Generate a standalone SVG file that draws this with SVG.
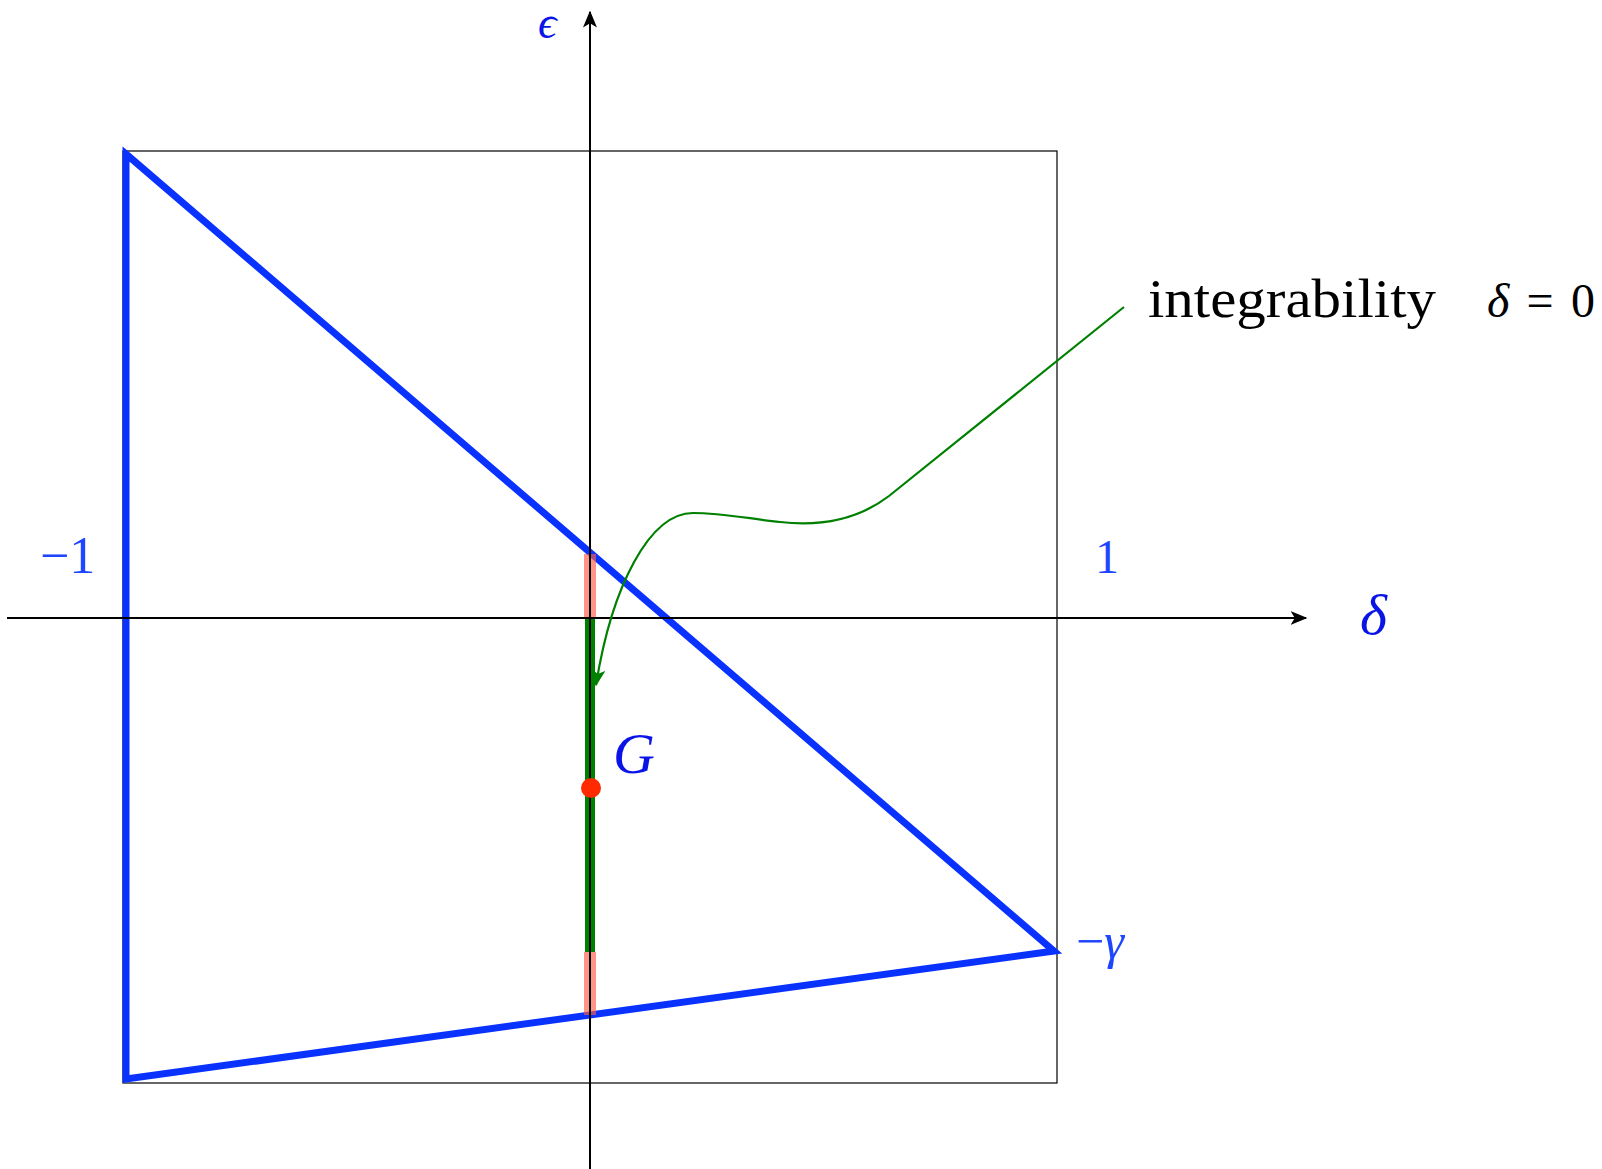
<svg xmlns="http://www.w3.org/2000/svg" width="1602" height="1169" viewBox="0 0 1602 1169">
<style>
.ax{stroke:#000;stroke-width:2;fill:none}
.box{stroke:#000;stroke-width:1.2;fill:none}
.tri{stroke:#0a32ff;stroke-width:7;fill:none;stroke-linejoin:miter}
.lbl{font-family:"Liberation Serif","DejaVu Serif",serif;fill:#1f46ff}
.math{font-family:"Liberation Serif","DejaVu Serif",serif;font-style:italic;fill:#0a14e6}
.txt{font-family:"Liberation Serif","DejaVu Serif",serif;fill:#000}
</style>
<defs>
<marker id="ah" viewBox="0 0 12 10" refX="11" refY="5" markerWidth="17" markerHeight="14" markerUnits="userSpaceOnUse" orient="auto">
<path d="M0,0 L12,5 L0,10 L3,5 Z" fill="#000"/>
</marker>
<marker id="gh" viewBox="0 0 12 10" refX="11" refY="5" markerWidth="17" markerHeight="14" markerUnits="userSpaceOnUse" orient="auto">
<path d="M0,0 L12,5 L0,10 L3,5 Z" fill="#008000"/>
</marker>
</defs>
<rect width="1602" height="1169" fill="#fff"/>
<g id="frame">
<rect class="box" x="123" y="151" width="934" height="932"/>
</g>
<g id="region">
<polygon class="tri" points="126,154 1054,951 126,1079"/>
</g>
<g id="segments">
<rect x="584" y="554" width="12" height="64" fill="#ff5a46" fill-opacity="0.65"/>
<rect x="585" y="618" width="10" height="334" fill="#008000"/>
<rect x="584" y="952" width="12" height="63" fill="#ff5a46" fill-opacity="0.65"/>
</g>
<g id="axes">
<line class="ax" x1="7" y1="618" x2="1306" y2="618" marker-end="url(#ah)"/>
<line class="ax" x1="590" y1="1169" x2="590" y2="12" marker-end="url(#ah)"/>
</g>
<g id="point-G">
<circle cx="591" cy="788" r="10" fill="#ff2a00"/>
<text class="math" x="613" y="773" font-size="58">G</text>
</g>
<g id="connectors">
<path d="M1124,307 L889,496 C855,522 815,526 780,522 C745,518 720,513 693,513 C650,513 612,585 596,685" stroke="#008000" stroke-width="2.2" fill="none" marker-end="url(#gh)"/>
</g>
<g id="labels">
<text class="math" x="538" y="38" font-size="46">ϵ</text>
<text class="math" x="1360" y="634" font-size="58">δ</text>
<text class="lbl" x="1095" y="573" font-size="48">1</text>
<text class="lbl" x="40" y="573" font-size="52">−1</text>
<text class="lbl" x="1076" y="958" font-size="50">−<tspan font-style="italic">γ</tspan></text>
<text class="txt" x="1148" y="317" font-size="54" textLength="288" lengthAdjust="spacingAndGlyphs">integrability</text>
<text class="txt" x="1487" y="317" font-size="48" textLength="108" lengthAdjust="spacing"><tspan font-style="italic">δ</tspan> = 0</text>
</g>
</svg>
